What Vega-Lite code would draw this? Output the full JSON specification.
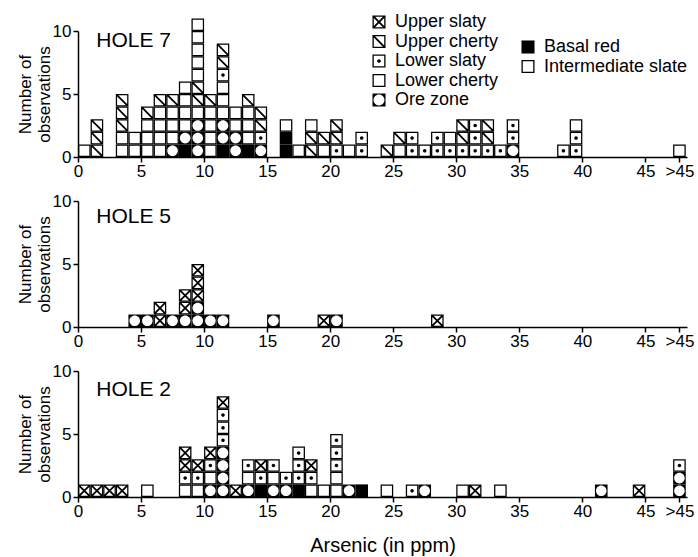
{
  "$schema": "https://vega.github.io/schema/vega-lite/v6.json",
  "background": "white",
  "padding": {"left": 16, "top": 13, "right": 5, "bottom": 5},
  "config": {
    "view": {"stroke": null},
    "font": "Liberation Sans",
    "axis": {"grid": false, "domainColor": "black", "domainWidth": 1.5, "tickColor": "black", "tickWidth": 1.5, "tickSize": 5, "labelColor": "black", "labelFontSize": 17, "labelFont": "Liberation Sans", "titleColor": "black", "titleFont": "Liberation Sans", "titleFontWeight": "normal"}
  },
  "datasets": {
    "obs": [
      {"hole":7,"ppm":0,"unit":"Lower cherty"},
      {"hole":7,"ppm":1,"unit":"Upper cherty"},{"hole":7,"ppm":1,"unit":"Upper cherty"},{"hole":7,"ppm":1,"unit":"Upper cherty"},
      {"hole":7,"ppm":3,"unit":"Lower cherty"},{"hole":7,"ppm":3,"unit":"Lower cherty"},{"hole":7,"ppm":3,"unit":"Upper cherty"},{"hole":7,"ppm":3,"unit":"Upper cherty"},{"hole":7,"ppm":3,"unit":"Upper cherty"},
      {"hole":7,"ppm":4,"unit":"Lower cherty"},{"hole":7,"ppm":4,"unit":"Lower cherty"},
      {"hole":7,"ppm":5,"unit":"Lower cherty"},{"hole":7,"ppm":5,"unit":"Lower cherty"},{"hole":7,"ppm":5,"unit":"Lower cherty"},{"hole":7,"ppm":5,"unit":"Upper cherty"},
      {"hole":7,"ppm":6,"unit":"Lower cherty"},{"hole":7,"ppm":6,"unit":"Lower cherty"},{"hole":7,"ppm":6,"unit":"Lower cherty"},{"hole":7,"ppm":6,"unit":"Lower cherty"},{"hole":7,"ppm":6,"unit":"Upper cherty"},
      {"hole":7,"ppm":7,"unit":"Ore zone"},{"hole":7,"ppm":7,"unit":"Lower cherty"},{"hole":7,"ppm":7,"unit":"Lower cherty"},{"hole":7,"ppm":7,"unit":"Lower cherty"},{"hole":7,"ppm":7,"unit":"Upper cherty"},
      {"hole":7,"ppm":8,"unit":"Basal red"},{"hole":7,"ppm":8,"unit":"Ore zone"},{"hole":7,"ppm":8,"unit":"Lower cherty"},{"hole":7,"ppm":8,"unit":"Lower cherty"},{"hole":7,"ppm":8,"unit":"Lower cherty"},{"hole":7,"ppm":8,"unit":"Lower cherty"},
      {"hole":7,"ppm":9,"unit":"Ore zone"},{"hole":7,"ppm":9,"unit":"Ore zone"},{"hole":7,"ppm":9,"unit":"Ore zone"},{"hole":7,"ppm":9,"unit":"Lower cherty"},{"hole":7,"ppm":9,"unit":"Upper cherty"},{"hole":7,"ppm":9,"unit":"Upper cherty"},{"hole":7,"ppm":9,"unit":"Lower cherty"},{"hole":7,"ppm":9,"unit":"Lower cherty"},{"hole":7,"ppm":9,"unit":"Lower cherty"},{"hole":7,"ppm":9,"unit":"Lower cherty"},{"hole":7,"ppm":9,"unit":"Lower cherty"},
      {"hole":7,"ppm":10,"unit":"Lower cherty"},{"hole":7,"ppm":10,"unit":"Lower cherty"},{"hole":7,"ppm":10,"unit":"Lower cherty"},{"hole":7,"ppm":10,"unit":"Lower cherty"},{"hole":7,"ppm":10,"unit":"Upper cherty"},
      {"hole":7,"ppm":11,"unit":"Basal red"},{"hole":7,"ppm":11,"unit":"Ore zone"},{"hole":7,"ppm":11,"unit":"Ore zone"},{"hole":7,"ppm":11,"unit":"Lower cherty"},{"hole":7,"ppm":11,"unit":"Lower cherty"},{"hole":7,"ppm":11,"unit":"Lower cherty"},{"hole":7,"ppm":11,"unit":"Lower slaty"},{"hole":7,"ppm":11,"unit":"Upper cherty"},{"hole":7,"ppm":11,"unit":"Upper cherty"},
      {"hole":7,"ppm":12,"unit":"Ore zone"},{"hole":7,"ppm":12,"unit":"Ore zone"},{"hole":7,"ppm":12,"unit":"Lower cherty"},{"hole":7,"ppm":12,"unit":"Lower cherty"},
      {"hole":7,"ppm":13,"unit":"Basal red"},{"hole":7,"ppm":13,"unit":"Lower cherty"},{"hole":7,"ppm":13,"unit":"Lower cherty"},{"hole":7,"ppm":13,"unit":"Lower cherty"},{"hole":7,"ppm":13,"unit":"Upper cherty"},
      {"hole":7,"ppm":14,"unit":"Ore zone"},{"hole":7,"ppm":14,"unit":"Lower slaty"},{"hole":7,"ppm":14,"unit":"Upper cherty"},{"hole":7,"ppm":14,"unit":"Upper cherty"},
      {"hole":7,"ppm":16,"unit":"Basal red"},{"hole":7,"ppm":16,"unit":"Basal red"},{"hole":7,"ppm":16,"unit":"Lower cherty"},
      {"hole":7,"ppm":17,"unit":"Lower cherty"},
      {"hole":7,"ppm":18,"unit":"Upper cherty"},{"hole":7,"ppm":18,"unit":"Upper cherty"},{"hole":7,"ppm":18,"unit":"Lower cherty"},
      {"hole":7,"ppm":19,"unit":"Lower cherty"},{"hole":7,"ppm":19,"unit":"Upper cherty"},
      {"hole":7,"ppm":20,"unit":"Lower slaty"},{"hole":7,"ppm":20,"unit":"Upper cherty"},{"hole":7,"ppm":20,"unit":"Upper cherty"},
      {"hole":7,"ppm":21,"unit":"Lower cherty"},
      {"hole":7,"ppm":22,"unit":"Lower slaty"},{"hole":7,"ppm":22,"unit":"Lower slaty"},
      {"hole":7,"ppm":24,"unit":"Upper cherty"},
      {"hole":7,"ppm":25,"unit":"Lower cherty"},{"hole":7,"ppm":25,"unit":"Upper cherty"},
      {"hole":7,"ppm":26,"unit":"Lower slaty"},{"hole":7,"ppm":26,"unit":"Lower slaty"},
      {"hole":7,"ppm":27,"unit":"Lower slaty"},
      {"hole":7,"ppm":28,"unit":"Lower slaty"},{"hole":7,"ppm":28,"unit":"Lower slaty"},
      {"hole":7,"ppm":29,"unit":"Lower slaty"},{"hole":7,"ppm":29,"unit":"Lower cherty"},
      {"hole":7,"ppm":30,"unit":"Lower slaty"},{"hole":7,"ppm":30,"unit":"Upper cherty"},{"hole":7,"ppm":30,"unit":"Upper cherty"},
      {"hole":7,"ppm":31,"unit":"Lower slaty"},{"hole":7,"ppm":31,"unit":"Lower slaty"},{"hole":7,"ppm":31,"unit":"Lower slaty"},
      {"hole":7,"ppm":32,"unit":"Lower slaty"},{"hole":7,"ppm":32,"unit":"Upper cherty"},{"hole":7,"ppm":32,"unit":"Upper cherty"},
      {"hole":7,"ppm":33,"unit":"Lower slaty"},
      {"hole":7,"ppm":34,"unit":"Ore zone"},{"hole":7,"ppm":34,"unit":"Lower slaty"},{"hole":7,"ppm":34,"unit":"Lower slaty"},
      {"hole":7,"ppm":38,"unit":"Lower slaty"},
      {"hole":7,"ppm":39,"unit":"Lower slaty"},{"hole":7,"ppm":39,"unit":"Lower slaty"},{"hole":7,"ppm":39,"unit":"Intermediate slate"},
      {"hole":7,"ppm":47.2,"unit":"Intermediate slate"},

      {"hole":5,"ppm":4,"unit":"Ore zone"},
      {"hole":5,"ppm":5,"unit":"Ore zone"},
      {"hole":5,"ppm":6,"unit":"Upper slaty"},{"hole":5,"ppm":6,"unit":"Upper slaty"},
      {"hole":5,"ppm":7,"unit":"Ore zone"},
      {"hole":5,"ppm":8,"unit":"Ore zone"},{"hole":5,"ppm":8,"unit":"Upper slaty"},{"hole":5,"ppm":8,"unit":"Upper slaty"},
      {"hole":5,"ppm":9,"unit":"Ore zone"},{"hole":5,"ppm":9,"unit":"Ore zone"},{"hole":5,"ppm":9,"unit":"Upper slaty"},{"hole":5,"ppm":9,"unit":"Upper slaty"},{"hole":5,"ppm":9,"unit":"Upper slaty"},
      {"hole":5,"ppm":10,"unit":"Ore zone"},
      {"hole":5,"ppm":11,"unit":"Ore zone"},
      {"hole":5,"ppm":15,"unit":"Ore zone"},
      {"hole":5,"ppm":19,"unit":"Upper slaty"},
      {"hole":5,"ppm":20,"unit":"Ore zone"},
      {"hole":5,"ppm":28,"unit":"Upper slaty"},

      {"hole":2,"ppm":0,"unit":"Upper slaty"},
      {"hole":2,"ppm":1,"unit":"Upper slaty"},
      {"hole":2,"ppm":2,"unit":"Upper slaty"},
      {"hole":2,"ppm":3,"unit":"Upper slaty"},
      {"hole":2,"ppm":5,"unit":"Intermediate slate"},
      {"hole":2,"ppm":8,"unit":"Lower cherty"},{"hole":2,"ppm":8,"unit":"Lower slaty"},{"hole":2,"ppm":8,"unit":"Upper slaty"},{"hole":2,"ppm":8,"unit":"Upper slaty"},
      {"hole":2,"ppm":9,"unit":"Lower cherty"},{"hole":2,"ppm":9,"unit":"Lower slaty"},{"hole":2,"ppm":9,"unit":"Upper slaty"},
      {"hole":2,"ppm":10,"unit":"Ore zone"},{"hole":2,"ppm":10,"unit":"Lower cherty"},{"hole":2,"ppm":10,"unit":"Lower slaty"},{"hole":2,"ppm":10,"unit":"Upper slaty"},
      {"hole":2,"ppm":11,"unit":"Ore zone"},{"hole":2,"ppm":11,"unit":"Ore zone"},{"hole":2,"ppm":11,"unit":"Ore zone"},{"hole":2,"ppm":11,"unit":"Ore zone"},{"hole":2,"ppm":11,"unit":"Lower slaty"},{"hole":2,"ppm":11,"unit":"Lower slaty"},{"hole":2,"ppm":11,"unit":"Lower slaty"},{"hole":2,"ppm":11,"unit":"Upper slaty"},
      {"hole":2,"ppm":12,"unit":"Upper slaty"},
      {"hole":2,"ppm":13,"unit":"Ore zone"},{"hole":2,"ppm":13,"unit":"Lower cherty"},{"hole":2,"ppm":13,"unit":"Lower slaty"},
      {"hole":2,"ppm":14,"unit":"Basal red"},{"hole":2,"ppm":14,"unit":"Lower slaty"},{"hole":2,"ppm":14,"unit":"Upper slaty"},
      {"hole":2,"ppm":15,"unit":"Ore zone"},{"hole":2,"ppm":15,"unit":"Lower cherty"},{"hole":2,"ppm":15,"unit":"Lower slaty"},
      {"hole":2,"ppm":16,"unit":"Ore zone"},{"hole":2,"ppm":16,"unit":"Lower slaty"},
      {"hole":2,"ppm":17,"unit":"Basal red"},{"hole":2,"ppm":17,"unit":"Lower slaty"},{"hole":2,"ppm":17,"unit":"Lower slaty"},{"hole":2,"ppm":17,"unit":"Lower slaty"},
      {"hole":2,"ppm":18,"unit":"Lower cherty"},{"hole":2,"ppm":18,"unit":"Lower slaty"},{"hole":2,"ppm":18,"unit":"Upper slaty"},
      {"hole":2,"ppm":19,"unit":"Lower cherty"},
      {"hole":2,"ppm":20,"unit":"Lower cherty"},{"hole":2,"ppm":20,"unit":"Lower cherty"},{"hole":2,"ppm":20,"unit":"Lower slaty"},{"hole":2,"ppm":20,"unit":"Lower slaty"},{"hole":2,"ppm":20,"unit":"Lower slaty"},
      {"hole":2,"ppm":21,"unit":"Ore zone"},
      {"hole":2,"ppm":22,"unit":"Basal red"},
      {"hole":2,"ppm":24,"unit":"Intermediate slate"},
      {"hole":2,"ppm":26,"unit":"Lower slaty"},
      {"hole":2,"ppm":27,"unit":"Ore zone"},
      {"hole":2,"ppm":30,"unit":"Lower cherty"},
      {"hole":2,"ppm":31,"unit":"Upper slaty"},
      {"hole":2,"ppm":33,"unit":"Intermediate slate"},
      {"hole":2,"ppm":41,"unit":"Ore zone"},
      {"hole":2,"ppm":44,"unit":"Upper slaty"},
      {"hole":2,"ppm":47.2,"unit":"Ore zone"},{"hole":2,"ppm":47.2,"unit":"Ore zone"},{"hole":2,"ppm":47.2,"unit":"Lower slaty"}
    ]
  },
  "bounds": "flush",
  "spacing": 44,
  "resolve": {"scale": {"shape": "independent", "x": "independent", "y": "independent"}, "legend": {"shape": "independent"}},
  "vconcat": [
    {
      "width": 609, "height": 126,
      "data": {"name": "obs"},
      "transform": [
        {"filter": "datum.hole == 7"},
        {"window": [{"op": "row_number", "as": "k"}], "groupby": ["ppm"]}
      ],
      "encoding": {
        "x": {"field": "ppm", "type": "quantitative", "scale": {"domain": [0, 48.3], "nice": false, "zero": false},
              "axis": {"values": [0,5,10,15,20,25,30,35,40,45,47.7], "labelExpr": "datum.value > 46 ? '>45' : datum.label", "title": null, "labelFlush": false, "labelOverlap": false, "labelPadding": 1}},
        "y": {"field": "k", "type": "quantitative", "scale": {"domain": [0, 10], "nice": false},
              "axis": {"values": [0,5,10], "title": ["Number of", "observations"], "titleFontSize": 17, "titlePadding": -1, "labelPadding": 2}}
      },
      "resolve": {"scale": {"shape": "independent"}, "legend": {"shape": "independent"}},
      "layer": [
        {
          "transform": [{"filter": "datum.unit != 'Basal red' && datum.unit != 'Intermediate slate'"}],
          "mark": {"type": "point", "filled": true, "color": "black", "opacity": 1, "strokeWidth": 0, "size": 159, "xOffset": 6.3, "yOffset": 6.3},
          "encoding": {
            "shape": {"field": "unit", "type": "nominal",
              "scale": {"domain": ["Upper slaty","Upper cherty","Lower slaty","Lower cherty","Ore zone"],
                        "range": ["M-1,-1H1V1H-1ZM-0.8,-0.8V0.8H0.8V-0.8ZM-0.8,-0.8L-0.6,-0.8L0.8,0.6L0.8,0.8L0.6,0.8L-0.8,-0.6ZM0.8,-0.8L0.8,-0.6L-0.6,0.8L-0.8,0.8L-0.8,0.6L0.6,-0.8Z",
                                  "M-1,-1H1V1H-1ZM-0.8,-0.8V0.8H0.8V-0.8ZM-0.8,-0.8L-0.6,-0.8L0.8,0.6L0.8,0.8L0.6,0.8L-0.8,-0.6Z",
                                  "M-1,-1H1V1H-1ZM-0.8,-0.8V0.8H0.8V-0.8ZM0.28,0A0.28,0.28 0 1,1 -0.28,0A0.28,0.28 0 1,1 0.28,0Z",
                                  "M-1,-1H1V1H-1ZM-0.8,-0.8V0.8H0.8V-0.8Z",
                                  "M-1,-1H1V1H-1ZM0.84,0A0.84,0.84 0 1,0 -0.84,0A0.84,0.84 0 1,0 0.84,0Z"]},
              "legend": {"orient": "none", "legendX": 292, "legendY": -18, "title": null, "padding": 0, "symbolSize": 170, "symbolFillColor": "black", "symbolStrokeWidth": 0, "symbolOpacity": 1, "labelFontSize": 18, "labelFont": "Liberation Sans", "labelColor": "black", "labelOffset": 7, "rowPadding": 1.5}}
          }
        },
        {
          "transform": [{"filter": "datum.unit == 'Basal red' || datum.unit == 'Intermediate slate'"}],
          "mark": {"type": "point", "filled": true, "color": "black", "opacity": 1, "strokeWidth": 0, "size": 159, "xOffset": 6.3, "yOffset": 6.3},
          "encoding": {
            "shape": {"field": "unit", "type": "nominal",
              "scale": {"domain": ["Basal red","Intermediate slate"],
                        "range": ["M-1,-1H1V1H-1Z", "M-1,-1H1V1H-1ZM-0.8,-0.8V0.8H0.8V-0.8Z"]},
              "legend": {"orient": "none", "legendX": 441, "legendY": 7, "title": null, "padding": 0, "symbolSize": 170, "symbolFillColor": "black", "symbolStrokeWidth": 0, "symbolOpacity": 1, "labelFontSize": 18, "labelFont": "Liberation Sans", "labelColor": "black", "labelOffset": 7, "rowPadding": 1.5}}
          }
        },
        {
          "transform": [{"window": [{"op": "row_number", "as": "r"}]}, {"filter": "datum.r == 1"}],
          "mark": {"type": "text", "align": "left", "baseline": "middle", "fontSize": 21, "font": "Liberation Sans", "color": "black"},
          "encoding": {"x": {"datum": 1.45}, "y": {"datum": 9.2}, "text": {"value": "HOLE 7"}}
        }
      ]
    },
    {
      "width": 609, "height": 126,
      "data": {"name": "obs"},
      "transform": [
        {"filter": "datum.hole == 5"},
        {"window": [{"op": "row_number", "as": "k"}], "groupby": ["ppm"]}
      ],
      "encoding": {
        "x": {"field": "ppm", "type": "quantitative", "scale": {"domain": [0, 48.3], "nice": false, "zero": false},
              "axis": {"values": [0,5,10,15,20,25,30,35,40,45,47.7], "labelExpr": "datum.value > 46 ? '>45' : datum.label", "title": null, "labelFlush": false, "labelOverlap": false, "labelPadding": 1}},
        "y": {"field": "k", "type": "quantitative", "scale": {"domain": [0, 10], "nice": false},
              "axis": {"values": [0,5,10], "title": ["Number of", "observations"], "titleFontSize": 17, "titlePadding": -1, "labelPadding": 2}}
      },
      "layer": [
        {
          "mark": {"type": "point", "filled": true, "color": "black", "opacity": 1, "strokeWidth": 0, "size": 159, "xOffset": 6.3, "yOffset": 6.3},
          "encoding": {
            "shape": {"field": "unit", "type": "nominal",
              "scale": {"domain": ["Upper slaty","Upper cherty","Lower slaty","Lower cherty","Ore zone"],
                        "range": ["M-1,-1H1V1H-1ZM-0.8,-0.8V0.8H0.8V-0.8ZM-0.8,-0.8L-0.6,-0.8L0.8,0.6L0.8,0.8L0.6,0.8L-0.8,-0.6ZM0.8,-0.8L0.8,-0.6L-0.6,0.8L-0.8,0.8L-0.8,0.6L0.6,-0.8Z",
                                  "M-1,-1H1V1H-1ZM-0.8,-0.8V0.8H0.8V-0.8ZM-0.8,-0.8L-0.6,-0.8L0.8,0.6L0.8,0.8L0.6,0.8L-0.8,-0.6Z",
                                  "M-1,-1H1V1H-1ZM-0.8,-0.8V0.8H0.8V-0.8ZM0.28,0A0.28,0.28 0 1,1 -0.28,0A0.28,0.28 0 1,1 0.28,0Z",
                                  "M-1,-1H1V1H-1ZM-0.8,-0.8V0.8H0.8V-0.8Z",
                                  "M-1,-1H1V1H-1ZM0.84,0A0.84,0.84 0 1,0 -0.84,0A0.84,0.84 0 1,0 0.84,0Z"]},
              "legend": null}
          }
        },
        {
          "transform": [{"window": [{"op": "row_number", "as": "r"}]}, {"filter": "datum.r == 1"}],
          "mark": {"type": "text", "align": "left", "baseline": "middle", "fontSize": 21, "font": "Liberation Sans", "color": "black"},
          "encoding": {"x": {"datum": 1.45}, "y": {"datum": 8.7}, "text": {"value": "HOLE 5"}}
        }
      ]
    },
    {
      "width": 609, "height": 126,
      "data": {"name": "obs"},
      "transform": [
        {"filter": "datum.hole == 2"},
        {"window": [{"op": "row_number", "as": "k"}], "groupby": ["ppm"]}
      ],
      "encoding": {
        "x": {"field": "ppm", "type": "quantitative", "scale": {"domain": [0, 48.3], "nice": false, "zero": false},
              "axis": {"values": [0,5,10,15,20,25,30,35,40,45,47.7], "labelExpr": "datum.value > 46 ? '>45' : datum.label", "title": "Arsenic (in ppm)", "titleFontSize": 20, "titlePadding": 16, "labelFlush": false, "labelOverlap": false, "labelPadding": 1}},
        "y": {"field": "k", "type": "quantitative", "scale": {"domain": [0, 10], "nice": false},
              "axis": {"values": [0,5,10], "title": ["Number of", "observations"], "titleFontSize": 17, "titlePadding": -1, "labelPadding": 2}}
      },
      "resolve": {"scale": {"shape": "independent"}, "legend": {"shape": "independent"}},
      "layer": [
        {
          "transform": [{"filter": "datum.unit != 'Basal red' && datum.unit != 'Intermediate slate'"}],
          "mark": {"type": "point", "filled": true, "color": "black", "opacity": 1, "strokeWidth": 0, "size": 159, "xOffset": 6.3, "yOffset": 6.3},
          "encoding": {
            "shape": {"field": "unit", "type": "nominal",
              "scale": {"domain": ["Upper slaty","Upper cherty","Lower slaty","Lower cherty","Ore zone"],
                        "range": ["M-1,-1H1V1H-1ZM-0.8,-0.8V0.8H0.8V-0.8ZM-0.8,-0.8L-0.6,-0.8L0.8,0.6L0.8,0.8L0.6,0.8L-0.8,-0.6ZM0.8,-0.8L0.8,-0.6L-0.6,0.8L-0.8,0.8L-0.8,0.6L0.6,-0.8Z",
                                  "M-1,-1H1V1H-1ZM-0.8,-0.8V0.8H0.8V-0.8ZM-0.8,-0.8L-0.6,-0.8L0.8,0.6L0.8,0.8L0.6,0.8L-0.8,-0.6Z",
                                  "M-1,-1H1V1H-1ZM-0.8,-0.8V0.8H0.8V-0.8ZM0.28,0A0.28,0.28 0 1,1 -0.28,0A0.28,0.28 0 1,1 0.28,0Z",
                                  "M-1,-1H1V1H-1ZM-0.8,-0.8V0.8H0.8V-0.8Z",
                                  "M-1,-1H1V1H-1ZM0.84,0A0.84,0.84 0 1,0 -0.84,0A0.84,0.84 0 1,0 0.84,0Z"]},
              "legend": null}
          }
        },
        {
          "transform": [{"filter": "datum.unit == 'Basal red' || datum.unit == 'Intermediate slate'"}],
          "mark": {"type": "point", "filled": true, "color": "black", "opacity": 1, "strokeWidth": 0, "size": 159, "xOffset": 6.3, "yOffset": 6.3},
          "encoding": {
            "shape": {"field": "unit", "type": "nominal",
              "scale": {"domain": ["Basal red","Intermediate slate"],
                        "range": ["M-1,-1H1V1H-1Z", "M-1,-1H1V1H-1ZM-0.8,-0.8V0.8H0.8V-0.8Z"]},
              "legend": null}
          }
        },
        {
          "transform": [{"window": [{"op": "row_number", "as": "r"}]}, {"filter": "datum.r == 1"}],
          "mark": {"type": "text", "align": "left", "baseline": "middle", "fontSize": 21, "font": "Liberation Sans", "color": "black"},
          "encoding": {"x": {"datum": 1.45}, "y": {"datum": 8.5}, "text": {"value": "HOLE 2"}}
        }
      ]
    }
  ]
}
